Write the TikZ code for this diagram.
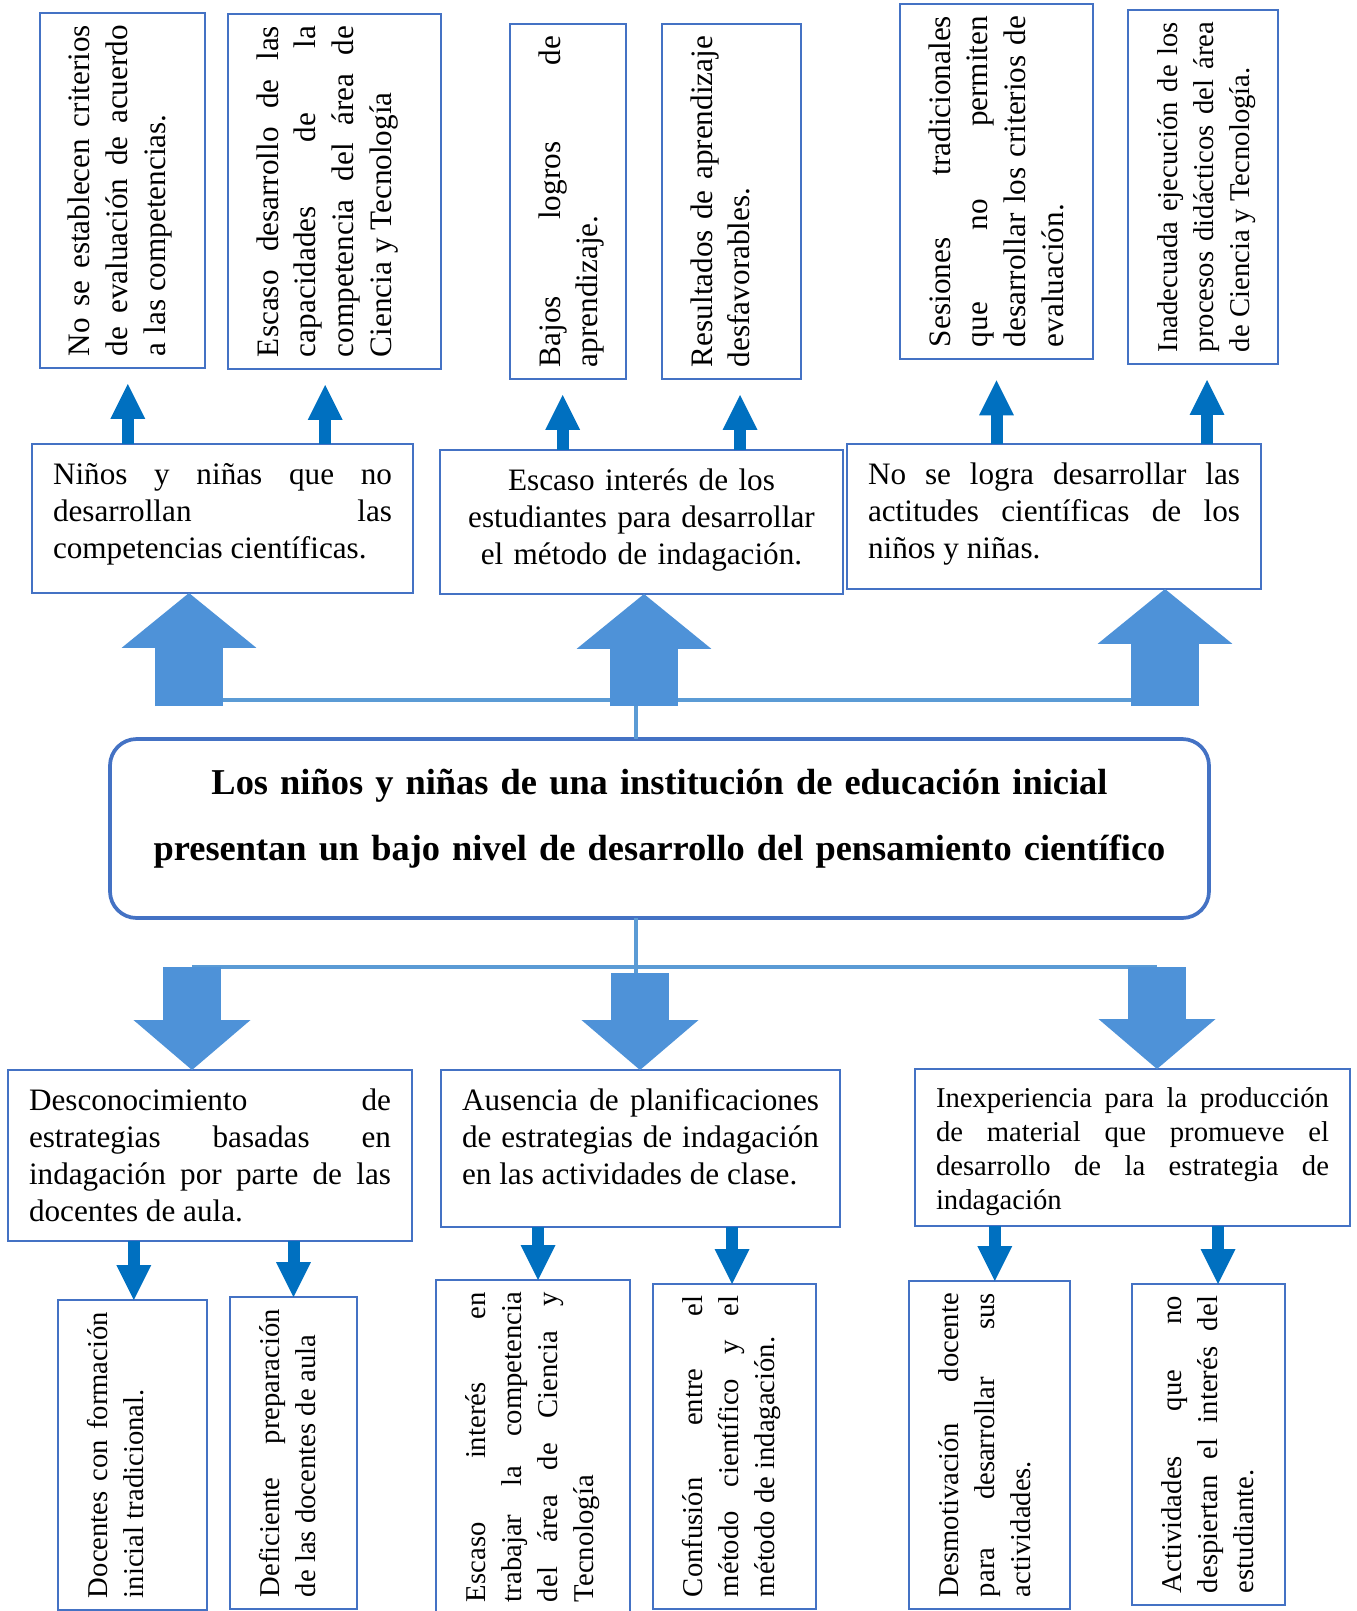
\documentclass[tikz,border=0pt]{standalone}
\usepackage{fontspec}
\setmainfont{Liberation Serif}
\usetikzlibrary{arrows.meta}
\definecolor{borde}{HTML}{4472C4}
\definecolor{azul}{HTML}{0070C0}
\definecolor{azulclaro}{HTML}{5B9BD5}
\definecolor{azulgrande}{HTML}{4E92D8}
\tolerance=9999
\hyphenpenalty=10000
\hbadness=10000
\tikzset{
	caja/.style={draw=borde,line width=1.1pt,anchor=north west,outer sep=0pt,inner xsep=7.875pt,inner ysep=5.25pt,align=justify,font=\fontsize{11.7}{13.9}\selectfont,text height=9.75pt},
	cajav/.style={caja,rotate=90,inner xsep=4.5pt,inner ysep=9pt,font=\fontsize{11.7}{14.2}\selectfont},
	chica/.style={font=\fontsize{10.75}{13.5}\selectfont,text height=9.45pt},
	flechita/.style={azul,line width=4.5pt,-{Triangle[width=13.1pt,length=13.1pt,line width=0pt]}},
	flechasube/.style={azulgrande,line width=25.5pt,-{Triangle[width=50.6pt,length=20.6pt,line width=0pt]}},
	flechabaja/.style={azulgrande,line width=22.1pt,-{Triangle[width=43.9pt,length=18.75pt,line width=0pt]}},
	linea/.style={azulclaro,line width=1.5pt}
}
\begin{document}
\begin{tikzpicture}[x=0.375pt,y=-0.375pt]
		\useasboundingbox (0,0) rectangle (1357,1611);
		\clip (0,0) rectangle (1357,1611);

		\node (e1)[cajav,text width=124.125pt,text depth=34.125pt] at (40,368) {No se establecen criterios\linebreak de evaluación de acuerdo\linebreak a las competencias.};
		\node (e2)[cajav,text width=124.125pt,text depth=52.125pt] at (228,369) {Escaso desarrollo de las\linebreak capacidades de la\linebreak competencia del área de\linebreak Ciencia y Tecnología};
		\node (e3)[cajav,text width=124.125pt,text depth=15.75pt] at (510,379) {Bajos logros de\linebreak aprendizaje.};
		\node (e4)[cajav,text width=124.125pt,text depth=24.375pt] at (662,379) {Resultados de aprendizaje\linebreak desfavorables.};
		\node (e5)[cajav,text width=124.125pt,text depth=44.625pt] at (900,359) {Sesiones tradicionales\linebreak que no permiten\linebreak desarrollar los criterios de\linebreak evaluación.};
		\node (e6)[cajav,chica,text width=123.75pt,text depth=28.8pt] at (1128,364) {Inadecuada ejecución de los\linebreak procesos didácticos del área\linebreak de Ciencia y Tecnología.};

		\node (f1)[caja,text width=127.125pt,text depth=35.625pt] at (32,444) {Niños y niñas que no\linebreak desarrollan las\linebreak competencias científicas.};
		\node (f2)[caja,align=center,text width=135.375pt,text depth=33.75pt] at (440,450) {Escaso interés de los\\estudiantes para desarrollar\\el método de indagación.};
		\node (f3)[caja,text width=139.5pt,text depth=34.125pt] at (847,444) {No se logra desarrollar las\linebreak actitudes científicas de los\linebreak niños y niñas.};

		\coordinate (pe1) at ([xshift=2pt]e1.west);
		\coordinate (pe2) at ([xshift=-3.5pt]e2.west);
		\coordinate (pe3) at ([xshift=-2pt]e3.west);
		\coordinate (pe4) at ([xshift=3.2pt]e4.west);
		\coordinate (pe5) at (e5.west);
		\coordinate (pe6) at ([xshift=1.5pt]e6.west);
		\draw[flechita,shorten >=6pt] (pe1 |- f1.north) -- (pe1);
		\draw[flechita,shorten >=6pt] (pe2 |- f1.north) -- (pe2);
		\draw[flechita,shorten >=6pt] (pe3 |- f2.north) -- (pe3);
		\draw[flechita,shorten >=6pt] (pe4 |- f2.north) -- (pe4);
		\draw[flechita,shorten >=8pt] (pe5 |- f3.north) -- (pe5);
		\draw[flechita,shorten >=6pt] (pe6 |- f3.north) -- (pe6);

		\node (prob)[caja,rounded corners=10pt,line width=1.4pt,align=center,font=\bfseries\fontsize{13.65}{25}\selectfont,text width=396.375pt,text height=15.375pt,text depth=41.25pt] at (110,739) {Los niños y niñas de una institución de educación inicial\\presentan un bajo nivel de desarrollo del pensamiento científico};

		\coordinate (ga1) at (189,706);
		\coordinate (ga2) at (644,706);
		\coordinate (ga3) at (1165,706);
		\coordinate (nudo1) at (636,700);
		\draw[linea] (ga1 |- nudo1) -- (ga3 |- nudo1);
		\draw[linea] (nudo1) -- (nudo1 |- prob.north);
		\draw[flechasube] (ga1) -- (ga1 |- f1.south);
		\draw[flechasube] (ga2) -- (ga2 |- f2.south);
		\draw[flechasube] (ga3) -- (ga3 |- f3.south);

		\node (c1)[caja,text width=135.75pt,text depth=43.875pt] at (8,1070) {Desconocimiento de\linebreak estrategias basadas en\linebreak indagación por parte de las\linebreak docentes de aula.};
		\node (c2)[caja,text width=133.875pt,text depth=38.625pt] at (441,1070) {Ausencia de planificaciones\linebreak de estrategias de indagación\linebreak en las actividades de clase.};
		\node (c3)[caja,font=\fontsize{10.75}{12.75}\selectfont,text height=9pt,text width=147.375pt,text depth=39.375pt] at (915,1069) {Inexperiencia para la producción\linebreak de material que promueve el\linebreak desarrollo de la estrategia de\linebreak indagación};

		\coordinate (gb1) at (192,967);
		\coordinate (gb2) at (640,973);
		\coordinate (gb3) at (1157,967);
		\coordinate (nudo2) at (636,967);
		\draw[linea] (gb1) -- (gb3);
		\draw[linea] (nudo2 |- prob.south) -- (nudo2 |- gb2);
		\draw[flechabaja] (gb1) -- (gb1 |- c1.north);
		\draw[flechabaja] (gb2) -- (gb2 |- c2.north);
		\draw[flechabaja] (gb3) -- (gb3 |- c3.north);

		\node (s1)[cajav,chica,text width=107.25pt,text depth=28.425pt] at (58,1610) {Docentes con formación\linebreak inicial tradicional.};
		\node (s2)[cajav,chica,text width=108pt,text depth=20.175pt] at (230,1609) {Deficiente preparación\linebreak de las docentes de aula};
		\node (s3)[cajav,chica,text width=116.25pt,text depth=45.3pt] at (436,1614) {Escaso interés en\linebreak trabajar la competencia\linebreak del área de Ciencia y\linebreak Tecnología};
		\node (s4)[cajav,chica,text width=112.875pt,text depth=33.675pt] at (653,1609) {Confusión entre el\linebreak método científico y el\linebreak método de indagación.};
		\node (s5)[cajav,chica,text width=114pt,text depth=32.925pt] at (909,1609) {Desmotivación docente\linebreak para desarrollar sus\linebreak actividades.};
		\node (s6)[cajav,chica,text width=111.375pt,text depth=29.925pt] at (1132,1605) {Actividades que no\linebreak despiertan el interés del\linebreak estudiante.};

		\coordinate (ps1) at ([xshift=0.5pt]s1.east);
		\coordinate (ps2) at (s2.east);
		\coordinate (ps3) at ([xshift=1.9pt]s3.east);
		\coordinate (ps4) at ([xshift=-0.9pt]s4.east);
		\coordinate (ps5) at ([xshift=2pt]s5.east);
		\coordinate (ps6) at ([xshift=3.6pt]s6.east);
		\draw[flechita] (c1.south -| ps1) -- (ps1);
		\draw[flechita] (c1.south -| ps2) -- (ps2);
		\draw[flechita] (c2.south -| ps3) -- (ps3);
		\draw[flechita] (c2.south -| ps4) -- (ps4);
		\draw[flechita] (c3.south -| ps5) -- (ps5);
		\draw[flechita] (c3.south -| ps6) -- (ps6);
	\end{tikzpicture}
\end{document}
